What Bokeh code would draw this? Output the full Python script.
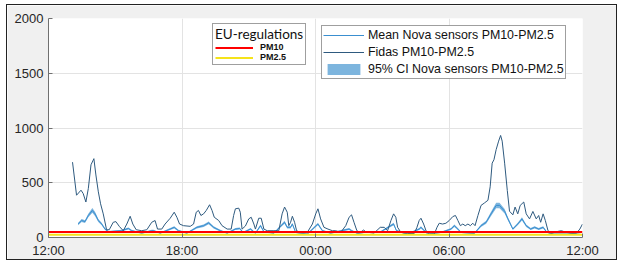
from bokeh.plotting import figure
from bokeh.models import Legend, LegendItem, FixedTicker, ColumnDataSource
from bokeh.embed import file_html
from bokeh.resources import INLINE

# ---- data (hours since 12:00 on day 1) ----
tick_hours = [0, 6, 12, 18, 24]
tick_labels = ["12:00", "18:00", "00:00", "06:00", "12:00"]
y_ticks = [0, 500, 1000, 1500, 2000]

fidas_hours = [1.08, 1.26, 1.46, 1.56, 1.68, 1.79, 1.91, 2.04, 2.13, 2.24, 2.34, 2.46, 2.61, 2.73, 2.91,
               3.03, 3.18, 3.36, 3.52, 3.67, 3.79, 3.94, 4.19, 4.42, 4.64, 4.79, 4.90, 5.09, 5.24, 5.47,
               5.65, 5.77, 5.89, 6.07, 6.37, 6.52, 6.64, 6.74, 6.85, 6.97, 7.09, 7.24, 7.35, 7.45, 7.65,
               7.80, 8.03, 8.21, 8.32, 8.40, 8.55, 8.62, 8.70, 8.85, 9.00, 9.11, 9.23, 9.30, 9.45, 9.56,
               9.68, 9.83, 10.13, 10.35, 10.50, 10.61, 10.73, 10.80, 10.88, 10.96, 11.06, 11.15, 11.33,
               11.63, 11.86, 12.01, 12.11, 12.23, 12.38, 12.56, 12.76, 12.91, 13.13, 13.36, 13.51, 13.62,
               13.73, 13.86, 14.00, 14.16, 14.26, 14.41, 14.63, 14.91, 15.09, 15.24, 15.39, 15.51, 15.61,
               15.69, 15.84, 16.14, 16.44, 16.56, 16.66, 16.74, 16.86, 16.97, 17.12, 17.34, 17.46, 17.56,
               17.71, 17.86, 18.01, 18.17, 18.29, 18.40, 18.51, 18.62, 18.73, 18.85, 18.96, 19.07, 19.17,
               19.30, 19.44, 19.59, 19.75, 19.85, 19.94, 20.02, 20.12, 20.23, 20.32, 20.39, 20.50, 20.62,
               20.72, 20.87, 20.97, 21.09, 21.20, 21.36, 21.47, 21.62, 21.77, 21.92, 22.03, 22.12, 22.23,
               22.33, 22.45, 22.60, 22.83, 23.05, 23.28, 23.50, 23.73, 23.88, 24.00]
fidas_values = [688, 386, 432, 401, 324, 447, 664, 720, 571, 417, 308, 216, 71, 71, 139,
                145, 102, 62, 123, 194, 123, 71, 62, 71, 139, 155, 77, 77, 123, 176,
                231, 185, 123, 108, 102, 123, 231, 247, 201, 216, 247, 299, 247, 185, 155,
                108, 77, 77, 201, 262, 268, 231, 77, 105, 170, 185, 123, 77, 176, 176,
                77, 62, 62, 62, 216, 278, 231, 108, 139, 194, 139, 62, 46,
                46, 123, 216, 262, 170, 93, 77, 62, 62, 46, 108, 185, 207,
                139, 62, 46, 68, 53, 46, 40, 93, 93, 62, 155, 216, 185,
                93, 46, 37, 37, 93, 155, 176, 123, 60, 31, 31, 93, 130,
                123, 130, 155, 191, 201, 155, 108, 123, 108, 123, 108, 130, 108,
                201, 293, 315, 340, 463, 679, 710, 803, 880, 932, 880, 679, 430,
                240, 207, 278, 216, 293, 324, 216, 170, 238, 170, 201, 139, 216,
                155, 62, 37, 53, 62, 46, 40, 40, 77, 123]

nova_hours = [1.33, 1.49, 1.64, 1.79, 1.97, 2.09, 2.24, 2.39, 2.54, 2.69, 3.29, 3.59, 3.74, 4.19, 4.64,
              4.72, 5.02, 5.47, 5.65, 5.84, 6.22, 6.67, 6.97, 7.20, 7.42, 7.72, 8.03, 8.40, 8.59, 8.75,
              9.08, 9.30, 9.53, 9.68, 10.13, 10.61, 10.73, 10.88, 10.96, 11.11, 11.63, 12.11, 12.31,
              12.68, 13.51, 13.62, 13.89, 14.18, 14.94, 15.51, 15.64, 16.14, 16.66, 16.74, 17.05,
              17.64, 18.09, 18.24, 18.40, 18.54, 19.14, 19.44, 19.67, 19.89, 20.12, 20.27, 20.50,
              20.65, 20.87, 21.09, 21.28, 21.47, 21.67, 21.85, 22.03, 22.23, 22.38, 22.60, 23.35, 23.95]
nova_mean = [123, 155, 145, 201, 247, 216, 155, 123, 77, 53, 62, 83, 62, 40, 62,
             62, 40, 77, 93, 62, 40, 93, 108, 133, 93, 62, 40, 77, 83, 46,
             77, 40, 108, 53, 40, 139, 93, 93, 123, 46, 31, 123, 62,
             40, 77, 62, 37, 46, 53, 123, 62, 31, 77, 93, 31,
             46, 77, 108, 77, 46, 37, 108, 139, 216, 293, 293, 240,
             170, 77, 123, 170, 108, 77, 93, 77, 93, 53, 31, 31, 46]
nova_ci_half = [12, 14, 13, 17, 22, 19, 14, 12, 9, 7, 8, 9, 8, 6, 8,
                8, 6, 9, 10, 8, 6, 10, 11, 13, 10, 8, 6, 9, 9, 6,
                9, 6, 11, 7, 6, 13, 10, 10, 12, 6, 5, 12, 8,
                6, 9, 8, 6, 6, 7, 12, 8, 5, 9, 10, 5,
                6, 9, 11, 9, 6, 6, 11, 13, 19, 25, 25, 21,
                15, 9, 12, 15, 11, 9, 10, 9, 10, 7, 5, 5, 6]

eu_names = ["PM10", "PM2.5"]
eu_limits = [50, 25]
eu_colors = ["#ff0000", "#f5e31a"]

# ---- figure ----
p = figure(width=611, height=256, x_range=(0, 24), y_range=(0, 2000),
           output_backend="svg", toolbar_location=None,
           min_border_left=41, min_border_right=36, min_border_top=13, min_border_bottom=24,
           border_fill_color="#f0f0f0", background_fill_color="white",
           outline_line_color=None)
p.styles = {"border": "1px solid #222", "margin-left": "6px", "margin-top": "4px"}

nova_src = ColumnDataSource(dict(
    x=nova_hours, y=nova_mean,
    lo=[m - h for m, h in zip(nova_mean, nova_ci_half)],
    hi=[m + h for m, h in zip(nova_mean, nova_ci_half)]))

band = p.varea(x="x", y1="lo", y2="hi", source=nova_src, fill_color="#7db5de", fill_alpha=1.0)
nova_line = p.line("x", "y", source=nova_src, line_color="#3a8fd0", line_width=1)
fidas_line = p.line(fidas_hours, fidas_values, line_color="#2e5a7f", line_width=1)

eu_renderers = []
for name, lim, col in zip(eu_names, eu_limits, eu_colors):
    r = p.line([tick_hours[0], tick_hours[-1]], [lim, lim], line_color=col, line_width=2)
    eu_renderers.append(r)

# axes
for ax in (p.xaxis[0], p.yaxis[0]):
    ax.major_tick_in = 4
    ax.major_tick_out = 0
    ax.minor_tick_in = 0
    ax.minor_tick_out = 0
    ax.axis_line_color = "#707070"
    ax.major_tick_line_color = "#707070"
    ax.major_label_text_font = "Liberation Sans"
    ax.major_label_text_font_size = "13px"
    ax.major_label_text_color = "#262626"

p.xaxis.ticker = FixedTicker(ticks=tick_hours)
p.xaxis.major_label_overrides = {h: l for h, l in zip(tick_hours, tick_labels)}
p.xaxis.major_label_standoff = 5
p.yaxis.ticker = FixedTicker(ticks=y_ticks)
p.yaxis.major_label_standoff = 5
p.grid.grid_line_color = "#e3e3e3"
p.grid.grid_line_width = 1

# legends
leg1 = Legend(items=[LegendItem(label=n, renderers=[r]) for n, r in zip(eu_names, eu_renderers)],
              location=(164, 172), title="EU-regulations",
              title_text_font="Lato", title_text_font_size="13.5px", title_text_font_style="normal",
              title_text_color="#111", title_standoff=0,
              label_text_font="Liberation Sans", label_text_font_size="9px", label_text_font_style="bold",
              label_text_color="#111", label_height=9, label_standoff=7,
              glyph_width=38, glyph_height=9, spacing=0, padding=2, margin=0,
              border_line_color="#404040", border_line_width=1, background_fill_alpha=1.0)
leg2 = Legend(items=[LegendItem(label="Mean Nova sensors PM10-PM2.5", renderers=[nova_line]),
                     LegendItem(label="Fidas PM10-PM2.5", renderers=[fidas_line]),
                     LegendItem(label="95% CI Nova sensors PM10-PM2.5", renderers=[band])],
              location=(273, 158),
              label_text_font="Liberation Sans", label_text_font_size="12.4px",
              label_text_color="#111", label_height=16, label_standoff=4,
              glyph_width=41, glyph_height=14, spacing=1, padding=1, margin=0,
              border_line_color="#404040", border_line_width=1, background_fill_alpha=1.0)
p.add_layout(leg1, "center")
p.add_layout(leg2, "center")

open("out.html", "w").write(file_html(p, INLINE))
